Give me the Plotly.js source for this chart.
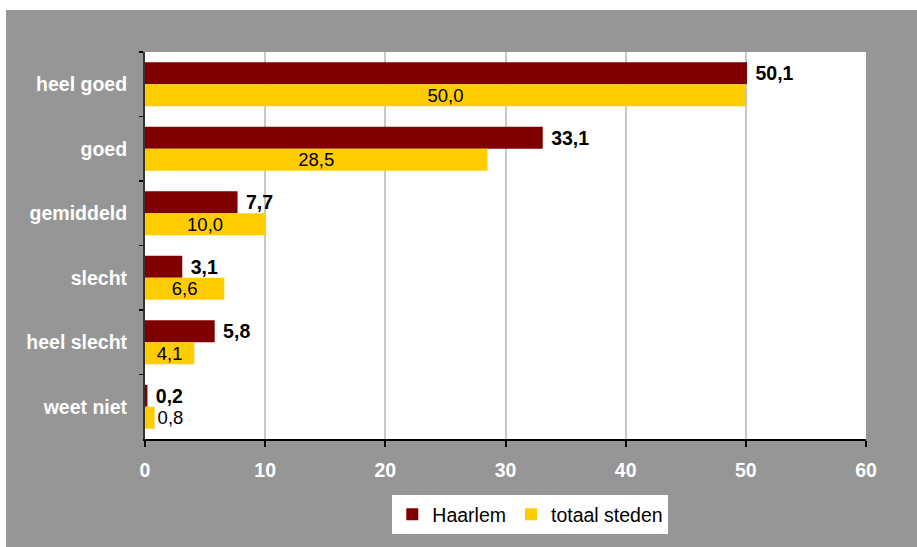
<!DOCTYPE html>
<html>
<head>
<meta charset="utf-8">
<script src="https://cdn.plot.ly/plotly-3.0.1.min.js"></script>
<style>
html,body{margin:0;padding:0;background:#ffffff;width:917px;height:547px;overflow:hidden;}
#chart{position:absolute;left:6px;top:10px;width:911px;height:537px;}
</style>
</head>
<body>
<div id="chart"></div>
<script>
var categories = ["heel goed", "goed", "gemiddeld", "slecht", "heel slecht", "weet niet"];
var haarlem = [50.1, 33.1, 7.7, 3.1, 5.8, 0.2];
var totaalSteden = [50.0, 28.5, 10.0, 6.6, 4.1, 0.8];
var seriesNames = ["Haarlem", "totaal steden"];
var xTicks = [0, 10, 20, 30, 40, 50, 60];

function fmt(v){ return v.toFixed(1).replace('.', ','); }

var font = "Liberation Sans, Arial, sans-serif";

var traces = [
  {
    type: 'bar', orientation: 'h', name: seriesNames[0],
    y: categories, x: haarlem,
    text: haarlem.map(fmt), texttemplate: '\u00a0%{text}', textposition: 'outside',
    outsidetextfont: {family: font, size: 19.5, color: '#000000', weight: 'bold'},
    marker: {color: '#800000', line: {width: 0}},
    cliponaxis: false, constraintext: 'none', hoverinfo: 'none'
  },
  {
    type: 'bar', orientation: 'h', name: seriesNames[1],
    y: categories, x: totaalSteden,
    text: totaalSteden.map(fmt),
    textposition: totaalSteden.map(function(v){ return v >= 2 ? 'inside' : 'outside'; }),
    insidetextanchor: 'middle',
    insidetextfont: {family: font, size: 18.5, color: '#000000'},
    outsidetextfont: {family: font, size: 18.5, color: '#000000'},
    marker: {color: '#FFCC00', line: {width: 0}},
    cliponaxis: false, constraintext: 'none', hoverinfo: 'none'
  }
];

var layout = {
  width: 911, height: 537,
  paper_bgcolor: '#969696', plot_bgcolor: '#ffffff',
  margin: {l: 139, r: 51, t: 42, b: 108},
  barmode: 'group', bargap: 0.318, bargroupgap: 0,
  showlegend: true,
  legend: {
    orientation: 'h', x: 0.343, xanchor: 'left', y: -0.145, yanchor: 'top',
    bgcolor: '#ffffff', borderwidth: 0,
    font: {family: font, size: 19.5, color: '#000000'},
    traceorder: 'normal', itemwidth: 30
  },
  xaxis: {
    range: [0, 60], tickvals: xTicks, ticktext: xTicks.map(String),
    showgrid: true, gridcolor: '#c8c8c8', gridwidth: 2,
    zeroline: false, showline: true, linecolor: '#000000', linewidth: 2,
    ticks: 'outside', ticklen: 6, tickwidth: 2, tickcolor: '#000000',
    tickfont: {family: font, size: 19.5, color: '#ffffff', weight: 'bold'},
    ticklabelstandoff: 7,
    fixedrange: true
  },
  yaxis: {
    type: 'category', autorange: 'reversed',
    showgrid: false, zeroline: false, showline: true, linecolor: '#333333', linewidth: 2,
    ticks: 'outside', tickson: 'boundaries', ticklen: 4, tickwidth: 1.5, tickcolor: '#000000',
    tickfont: {family: font, size: 19.5, color: '#ffffff', weight: 'bold'},
    ticklabelstandoff: 12,
    fixedrange: true
  }
};

Plotly.newPlot('chart', traces, layout, {displayModeBar: false, staticPlot: true});
</script>
</body>
</html>
